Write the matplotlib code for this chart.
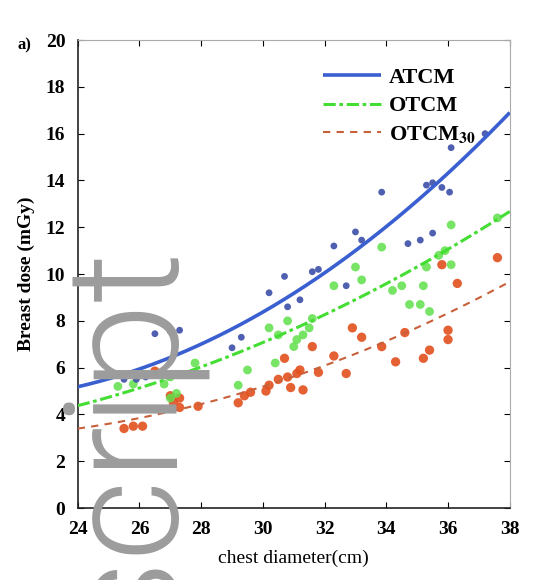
import numpy as np
import matplotlib
matplotlib.use("Agg")
import matplotlib.pyplot as plt

plt.rcParams['font.family'] = ['Liberation Serif', 'DejaVu Serif']
plt.rcParams['mathtext.fontset'] = 'stix'

# ---- data ----
curve_x = [24, 26, 28, 30, 32, 34, 36, 38]
atcm_fit = [5.1, 6.0, 7.1, 8.4, 10.0, 12.0, 14.2, 17.0]
otcm_fit = [4.4, 5.1, 6.0, 7.1, 8.3, 9.6, 11.0, 12.7]
otcm30_fit = [3.4, 3.8, 4.5, 5.2, 6.1, 7.1, 8.3, 9.7]

atcm_x = [25.5, 25.9, 26.2, 26.5, 27.0, 27.3, 29.0, 29.3, 30.2, 30.7, 30.8, 31.2,
          31.6, 31.8, 32.3, 32.7, 33.0, 33.2, 33.85, 34.7, 35.1, 35.5, 35.3, 35.5,
          35.8, 36.05, 36.1, 37.2]
atcm_y = [5.5, 5.5, 5.6, 7.45, 7.55, 7.6, 6.85, 7.3, 9.2, 9.9, 8.6, 8.9,
          10.1, 10.2, 11.2, 9.5, 11.8, 11.45, 13.5, 11.3, 11.45, 11.75, 13.8, 13.9,
          13.7, 13.5, 15.4, 16.0]

otcm_x = [25.3, 25.8, 26.3, 26.8, 27.0, 27.2, 27.0, 27.8, 29.2, 29.5, 30.2, 30.4,
          30.5, 30.8, 31.0, 31.1, 31.3, 31.5, 31.6, 32.3, 33.0, 33.2, 33.85, 34.2,
          34.5, 34.75, 35.1, 35.4, 35.2, 35.3, 35.7, 35.9, 36.1, 36.1, 37.6]
otcm_y = [5.2, 5.3, 5.7, 5.3, 5.6, 4.9, 4.7, 6.2, 5.25, 5.9, 7.7, 6.2,
          7.4, 8.0, 6.9, 7.2, 7.4, 7.7, 8.1, 9.5, 10.3, 9.75, 11.15, 9.3,
          9.5, 8.7, 8.7, 8.4, 9.5, 10.3, 10.8, 11.0, 10.4, 12.1, 12.4]

otcm30_x = [25.5, 25.8, 26.1, 26.5, 27.0, 27.1, 27.3, 27.3, 27.9, 29.2, 29.4, 29.6,
            30.1, 30.2, 30.5, 30.7, 30.8, 30.9, 31.1, 31.3, 31.2, 31.6, 31.8, 32.3,
            32.7, 32.9, 33.2, 33.85, 34.3, 34.6, 35.2, 35.4, 35.8, 36.0, 36.0, 36.3, 37.6]
otcm30_y = [3.4, 3.5, 3.5, 5.85, 4.8, 4.5, 4.7, 4.3, 4.35, 4.5, 4.8, 4.95,
            5.0, 5.25, 5.5, 6.4, 5.6, 5.15, 5.75, 5.05, 5.9, 6.9, 5.8, 6.5,
            5.75, 7.7, 7.3, 6.9, 6.25, 7.5, 6.4, 6.75, 10.4, 7.2, 7.6, 9.6, 10.7]

series_names = ['ATCM', 'OTCM', 'OTCM$_{\\mathbf{30}}$']
x_ticks = [24, 26, 28, 30, 32, 34, 36, 38]
y_ticks = [0, 2, 4, 6, 8, 10, 12, 14, 16, 18, 20]


def smooth(xs, ys):
    # smooth trend curve through the values read at the tick positions
    c = np.polyfit(xs, ys, 2)
    xx = np.linspace(min(xs), max(xs), 200)
    return xx, np.polyval(c, xx)


# ---- figure ----
fig = plt.figure(figsize=(5.4, 5.8), dpi=100)
ax = fig.add_axes([0.144, 0.124, 0.800, 0.807])

ax.scatter(otcm30_x, otcm30_y, s=45, color='#e2501e', edgecolors='none', alpha=0.9, zorder=2)
ax.scatter(otcm_x, otcm_y, s=40, color='#5fe04a', edgecolors='none', alpha=0.85, zorder=2)
ax.scatter(atcm_x, atcm_y, s=24, color='#3d4fa8', edgecolors='none', alpha=0.9, zorder=3)

l1, = ax.plot(*smooth(curve_x, atcm_fit), color='#3a5fd0', lw=2.6, solid_capstyle='butt', zorder=4)
l2, = ax.plot(*smooth(curve_x, otcm_fit), color='#44dd33', lw=2.2, dashes=(4, 1.2, 1.2, 1.2), zorder=4)
l3, = ax.plot(*smooth(curve_x, otcm30_fit), color='#c8603a', lw=1.5, dashes=(3.5, 3), zorder=4)

ax.set_xlim(24, 38)
ax.set_ylim(0, 20)
ax.set_xticks(x_ticks)
ax.set_yticks(y_ticks)
ax.set_xticklabels([str(t) for t in x_ticks], fontsize=14, fontweight='bold')
ax.set_yticklabels([str(t) for t in y_ticks], fontsize=14, fontweight='bold')
ax.tick_params(axis='x', direction='in', length=4, width=0.8, top=True, pad=9)
ax.tick_params(axis='y', direction='in', length=4, width=0.8, right=True, pad=9)

for side in ['top', 'right']:
    ax.spines[side].set_color('#aaaaaa')
for side in ['bottom', 'left']:
    ax.spines[side].set_color('#222222')
    ax.spines[side].set_linewidth(1.2)

ax.set_xlabel('chest diameter(cm)', fontsize=14, labelpad=9)
ax.set_ylabel('Breast dose (mGy)', fontsize=14, fontweight='bold', labelpad=8)

leg = ax.legend([l1, l2, l3], series_names, loc='upper left',
                bbox_to_anchor=(0.542, 0.965), frameon=False, handlelength=2.6,
                handletextpad=0.35, labelspacing=0.35, borderpad=0,
                prop={'family': 'Liberation Serif', 'weight': 'bold', 'size': 16})

fig.text(0.033, 0.914, 'a)', fontsize=12, fontweight='bold')

# grey watermark text overlaid on the figure
fig.text(0.314, 0.58, 'script', rotation=90, rotation_mode='anchor',
         ha='right', va='baseline', fontsize=114, color='#9c9c9c',
         family=['Roboto', 'Liberation Sans', 'DejaVu Sans'], fontweight=300,
         zorder=10)

fig.savefig('out.png', dpi=100)
